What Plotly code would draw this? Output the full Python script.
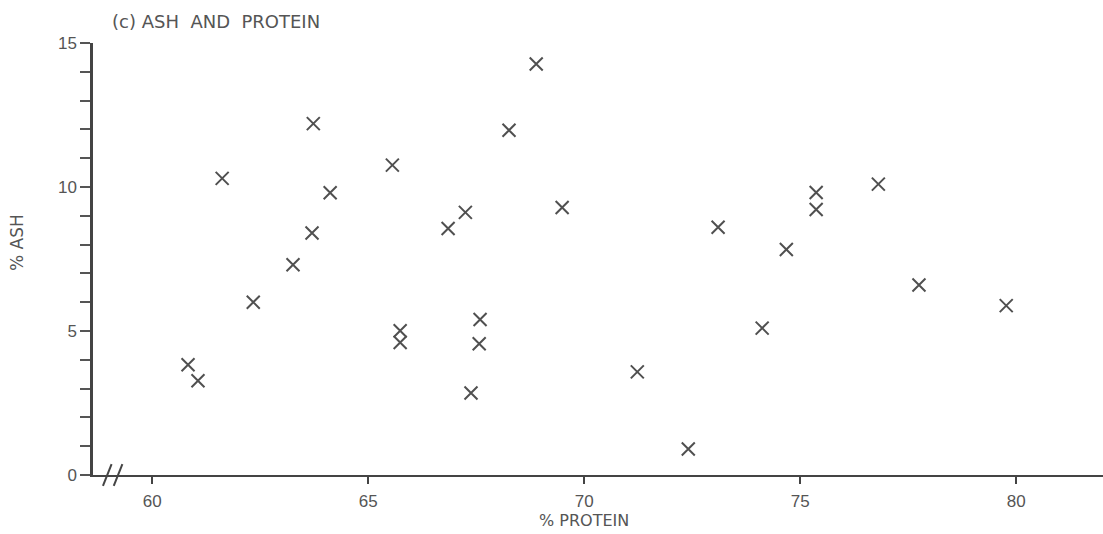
import plotly.graph_objects as go

protein = [60.83, 61.06, 61.62, 62.34, 63.26, 63.70, 63.73, 64.12, 65.56, 65.74,
           65.74, 66.85, 67.25, 67.38, 67.57, 67.59, 68.26, 68.89, 69.49, 71.23,
           72.41, 73.10, 74.12, 74.68, 75.37, 75.37, 76.81, 77.75, 79.77]
ash = [3.83, 3.27, 10.3, 6.0, 7.3, 8.4, 12.2, 9.8, 10.76, 5.01,
       4.6, 8.56, 9.12, 2.85, 4.56, 5.4, 11.97, 14.27, 9.29, 3.58,
       0.9, 8.6, 5.1, 7.83, 9.81, 9.22, 10.1, 6.6, 5.88]

x_ticks = [60, 65, 70, 75, 80]
y_ticks = [0, 5, 10, 15]

fig = go.Figure()
fig.add_trace(go.Scatter(
    x=protein, y=ash, mode="markers",
    marker=dict(symbol="x-thin", size=13, color="#505050",
                line=dict(width=2, color="#505050")),
    showlegend=False, hoverinfo="x+y"))

font_tick = "Liberation Sans, Arial, sans-serif"
font_text = "DejaVu Sans, Liberation Sans, sans-serif"

W, H = 1103, 534
L, T, B, R = 93, 43, 59, 0
pw = W - L - R
ph = H - T - B

fig.update_layout(
    width=W, height=H,
    margin=dict(l=L, r=R, t=T, b=B),
    paper_bgcolor="white", plot_bgcolor="white",
    font=dict(family=font_tick, color="#555555"),
    xaxis=dict(range=[58.63, 82.01], tickmode="array", tickvals=x_ticks,
               ticks="outside", ticklen=7, tickwidth=2, tickcolor="#444",
               showline=True, linecolor="#444", linewidth=2,
               showgrid=False, zeroline=False,
               tickfont=dict(size=17, color="#555"), ticklabelstandoff=3),
    yaxis=dict(range=[0, 15], tickmode="array", tickvals=y_ticks,
               ticks="outside", ticklen=10, tickwidth=1.5, tickcolor="#555",
               minor=dict(dtick=1, ticks="outside", ticklen=10, tickwidth=1.5,
                          tickcolor="#555", showgrid=False),
               showline=True, linecolor="#444", linewidth=2.5,
               showgrid=False, zeroline=False,
               tickfont=dict(size=17, color="#555")),
)

# axis break marks on x axis
for xb in [58.96, 59.21]:
    fig.add_shape(type="line", xref="x", yref="paper",
                  x0=xb - 0.1, x1=xb + 0.1, y0=-0.025, y1=0.025,
                  line=dict(color="#444", width=2))

fig.add_annotation(text="(c) ASH\u00a0 AND\u00a0 PROTEIN", xref="paper", yref="paper",
                   x=(110 - 93) / pw, y=1.0, yshift=22, xanchor="left",
                   yanchor="middle", showarrow=False,
                   font=dict(size=18, color="#555", family=font_text))
fig.add_annotation(text="% PROTEIN", xref="x", yref="paper", x=70, y=0,
                   yshift=-45, xanchor="center", yanchor="middle",
                   showarrow=False, font=dict(size=16, color="#555", family=font_text))
fig.add_annotation(text="% ASH", xref="paper", yref="paper",
                   x=(17 - 93) / pw, y=(475 - 243) / ph, xanchor="center",
                   yanchor="middle", textangle=-90, showarrow=False,
                   font=dict(size=17, color="#555", family=font_text))

fig.write_html("out.html", config={"displayModeBar": False},
               post_script="document.body.style.margin='0px';")
